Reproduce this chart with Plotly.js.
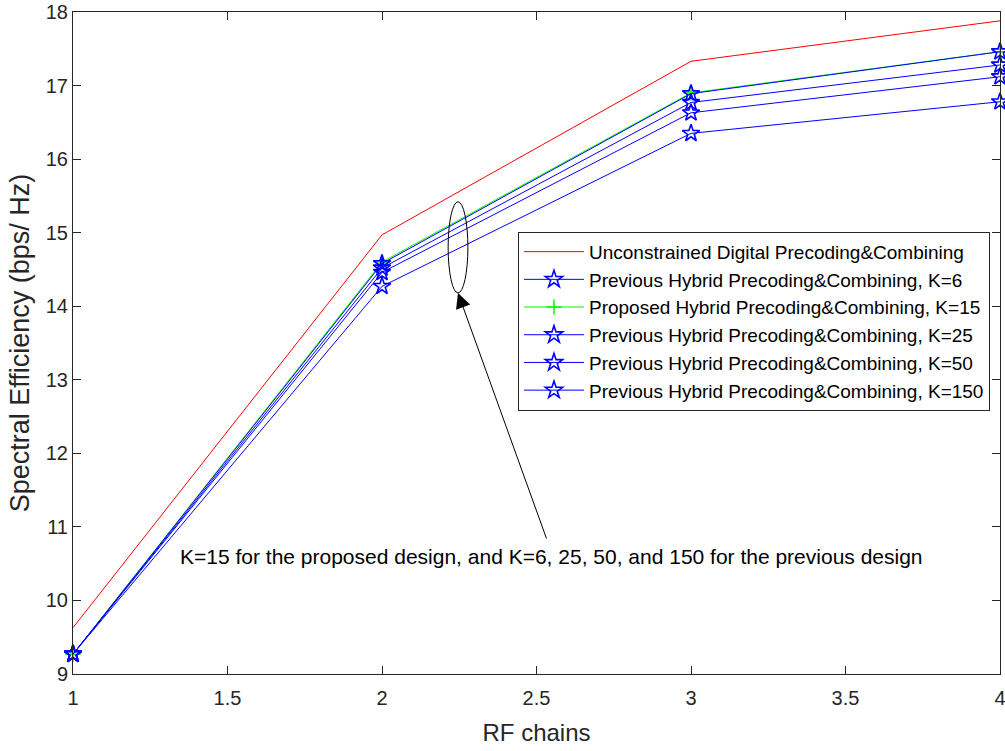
<!DOCTYPE html>
<html>
<head>
<meta charset="utf-8">
<script src="https://cdn.plot.ly/plotly-3.0.1.min.js"></script>
<style>html,body{margin:0;padding:0;background:#fff;}#chart{width:1005px;height:751px;}</style>
</head>
<body>
<div id="chart"></div>
<script>
// Spectral efficiency versus number of RF chains
const rfChains = [1, 2, 3, 4];
const unconstrained = [9.63, 14.97, 17.33, 17.88];
const prevK6 = [9.27, 14.27, 16.35, 16.78];
const proposedK15 = [9.27, 14.60, 16.90, 17.46];
const prevK25 = [9.27, 14.46, 16.63, 17.12];
const prevK50 = [9.27, 14.52, 16.77, 17.28];
const prevK150 = [9.27, 14.58, 16.89, 17.46];
const xTickVals = [1, 1.5, 2, 2.5, 3, 3.5, 4];
const xTickText = ['1', '1.5', '2', '2.5', '3', '3.5', '4'];
const seriesNames = [
  'Unconstrained Digital Precoding&Combining',
  'Previous Hybrid Precoding&Combining, K=6',
  'Proposed Hybrid Precoding&Combining, K=15',
  'Previous Hybrid Precoding&Combining, K=25',
  'Previous Hybrid Precoding&Combining, K=50',
  'Previous Hybrid Precoding&Combining, K=150'
];
const noteText = 'K=15 for the proposed design, and K=6, 25, 50, and 150 for the previous design';

const FONT = 'Liberation Sans, Arial, sans-serif';
const blueStar = {symbol: 'star-open', size: 13, color: '#0000ff', line: {color: '#0000ff', width: 1.6}};

function hybrid(y, name) {
  return {x: rfChains, y: y, name: name, mode: 'lines+markers', type: 'scatter', cliponaxis: false,
          line: {color: '#0000ff', width: 1}, marker: blueStar};
}

const traces = [
  {x: rfChains, y: unconstrained, name: seriesNames[0], mode: 'lines', type: 'scatter',
   line: {color: '#ff0000', width: 1}},
  hybrid(prevK6, seriesNames[1]),
  {x: rfChains, y: proposedK15, name: seriesNames[2], mode: 'lines+markers', type: 'scatter', cliponaxis: false,
   line: {color: '#00ff00', width: 1},
   marker: {symbol: 'cross-thin-open', size: 11, color: '#00ff00', line: {color: '#00ff00', width: 1.5}}},
  hybrid(prevK25, seriesNames[3]),
  hybrid(prevK50, seriesNames[4]),
  hybrid(prevK150, seriesNames[5])
];

const axisCommon = {
  showgrid: false, zeroline: false, showline: true, linecolor: '#262626', linewidth: 1,
  mirror: 'ticks', ticks: 'inside', ticklen: 8, tickcolor: '#262626',
  ticklabeloverflow: 'allow',
  tickfont: {family: FONT, size: 20, color: '#262626'}
};

const layout = {
  width: 1005, height: 751,
  margin: {l: 73, r: 5, t: 12, b: 77},
  paper_bgcolor: '#ffffff', plot_bgcolor: '#ffffff',
  showlegend: true,
  xaxis: Object.assign({}, axisCommon, {
    range: [1, 4], tickvals: xTickVals, ticktext: xTickText, ticklabelstandoff: 6,
    title: {text: 'RF chains', font: {family: FONT, size: 24, color: '#262626'}, standoff: 16}
  }),
  yaxis: Object.assign({}, axisCommon, {
    range: [9, 18], dtick: 1,
    title: {text: 'Spectral Efficiency (bps/ Hz)', font: {family: FONT, size: 27, color: '#262626'}, standoff: 8}
  }),
  legend: {
    x: 0.48, y: 0.668, xanchor: 'left', yanchor: 'top',
    bgcolor: '#ffffff', bordercolor: '#262626', borderwidth: 1,
    font: {family: FONT, size: 19, color: '#000000'},
    itemwidth: 60, tracegroupgap: 0
  },
  shapes: [
    {type: 'circle', xref: 'x', yref: 'y', x0: 2.214, x1: 2.278, y0: 14.18, y1: 15.42,
     line: {color: '#000000', width: 1}}
  ],
  annotations: [
    {xref: 'x', yref: 'y', x: 2.246, y: 14.18, text: '', showarrow: true,
     ax: 89, ay: 247, arrowhead: 2, arrowsize: 3, arrowwidth: 1, arrowcolor: '#000000'},
    {xref: 'paper', yref: 'paper', x: 0.516, y: 0.178, xanchor: 'center', yanchor: 'middle',
     text: noteText, showarrow: false, font: {family: FONT, size: 21, color: '#000000'}}
  ]
};

Plotly.newPlot('chart', traces, layout, {displayModeBar: false, staticPlot: true});
</script>
</body>
</html>
